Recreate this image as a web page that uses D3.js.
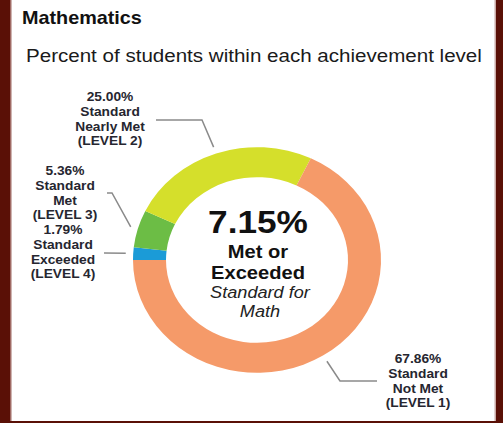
<!DOCTYPE html>
<html>
<head>
<meta charset="utf-8">
<script src="https://cdn.jsdelivr.net/npm/d3@7"></script>
<style>
  body { margin: 0; background: #fff; }
  svg { display: block; font-family: "Liberation Sans", Arial, sans-serif; }
</style>
</head>
<body>
<div id="chart"></div>
<script>
// ----- Data -----
const levels = ["Standard Exceeded", "Standard Met", "Standard Nearly Met", "Standard Not Met"];
const levelTags = ["(LEVEL 4)", "(LEVEL 3)", "(LEVEL 2)", "(LEVEL 1)"];
const percents = [1.79, 5.36, 25.00, 67.86];
const colors = ["#1b9bd7", "#6cbd45", "#d5df2b", "#f59a69"];
const metOrExceeded = "7.15%";

// label text lines, split the way the picture wraps them
const labelLines = [
  ["Standard", "Exceeded"],
  ["Standard", "Met"],
  ["Standard", "Nearly Met"],
  ["Standard", "Not Met"]
];

// ----- Config -----
const width = 503;
const height = 423;
const cx = 257, cy = 260;
const outerRadius = 124;
const innerRadius = 91;
const squash = 0.91;   // the ring is a little wider than tall
const stretch = 1.1;   // ...and so is the lettering

// where each label sits and how its leader bends
const labelLayout = [
  { x: 63,  y: 234, elbow: null,       end: [104, 253] },
  { x: 65,  y: 175, elbow: [112, 193], end: [107, 193] },
  { x: 110, y: 101, elbow: [202, 120], end: [156, 120] },
  { x: 418, y: 363, elbow: [340, 381], end: [377, 381] }
];

const data = levels.map((name, i) => ({
  name, tag: levelTags[i], value: percents[i], color: colors[i],
  lines: labelLines[i], layout: labelLayout[i]
}));

// ----- SVG setup -----
const svg = d3.select("#chart")
  .append("svg")
  .attr("width", width)
  .attr("height", height);

svg.append("rect").attr("width", width).attr("height", height).attr("fill", "#fff");

// frame
const frame = "#5a1006";
svg.append("rect").attr("x", 0).attr("y", 0).attr("width", 10).attr("height", height).attr("fill", frame);
svg.append("rect").attr("x", 10).attr("y", 0).attr("width", 1.5).attr("height", height).attr("fill", "#a06a64");
svg.append("rect").attr("x", 496).attr("y", 0).attr("width", 7).attr("height", height).attr("fill", frame);
svg.append("rect").attr("x", 494.5).attr("y", 0).attr("width", 1.5).attr("height", height).attr("fill", "#c9a9a5");
svg.append("rect").attr("x", 0).attr("y", 421).attr("width", width).attr("height", 2).attr("fill", frame);

// text helper: place at x,y and widen a little like the picture
function addText(parent, x, y, str) {
  return parent.append("text")
    .attr("transform", `translate(${x},${y}) scale(${stretch},1)`)
    .text(str);
}

// titles
addText(svg, 22, 24, "Mathematics")
  .attr("font-size", 18).attr("font-weight", "bold").attr("fill", "#111");

addText(svg, 26, 62, "Percent of students within each achievement level")
  .attr("font-size", 18.7).attr("fill", "#1a1a1a");

// ----- Donut -----
const pie = d3.pie()
  .sort(null)
  .value(d => d.value)
  .startAngle(-Math.PI / 2)
  .endAngle(3 * Math.PI / 2);

const arc = d3.arc()
  .innerRadius(innerRadius)
  .outerRadius(outerRadius);

const arcs = pie(data);

const ring = svg.append("g")
  .attr("transform", `translate(${cx},${cy}) scale(1,${squash})`);

ring.selectAll("path")
  .data(arcs)
  .join("path")
  .attr("d", arc)
  .attr("fill", d => d.data.color);

// ----- Leader lines -----
const leadR = outerRadius * 1.06;
function leaderStart(d) {
  const a = (d.startAngle + d.endAngle) / 2;
  return [cx + leadR * Math.sin(a), cy - leadR * squash * Math.cos(a)];
}

svg.append("g")
  .selectAll("path")
  .data(arcs)
  .join("path")
  .attr("fill", "none")
  .attr("stroke", "#8a8a8a")
  .attr("stroke-width", 1.5)
  .attr("d", d => {
    const pts = [leaderStart(d)];
    if (d.data.layout.elbow) pts.push(d.data.layout.elbow);
    pts.push(d.data.layout.end);
    return d3.line()(pts);
  });

// ----- Slice labels -----
const labels = svg.append("g")
  .selectAll("text")
  .data(arcs)
  .join("text")
  .attr("text-anchor", "middle")
  .attr("font-size", 12.5)
  .attr("font-weight", "bold")
  .attr("fill", "#262630")
  .attr("transform", d => `translate(${d.data.layout.x},${d.data.layout.y}) scale(${stretch},1)`);

labels.each(function(d) {
  const t = d3.select(this);
  const lines = [d3.format(".2f")(d.data.value) + "%", ...d.data.lines, d.data.tag];
  lines.forEach((s, i) => {
    t.append("tspan")
      .attr("x", 0)
      .attr("dy", i === 0 ? 0 : 14.8)
      .text(s);
  });
});

// ----- Centre text -----
const centre = svg.append("g").attr("text-anchor", "middle").attr("fill", "#111");
addText(centre, cx + 1, 233, metOrExceeded).attr("font-size", 32).attr("font-weight", "bold");
addText(centre, cx + 1, 258, "Met or").attr("font-size", 18.3).attr("font-weight", "bold");
addText(centre, cx + 1, 279, "Exceeded").attr("font-size", 18.3).attr("font-weight", "bold");
addText(centre, cx + 3, 298, "Standard for").attr("font-size", 16.5).attr("font-style", "italic").attr("fill", "#222");
addText(centre, cx + 3, 317, "Math").attr("font-size", 16.5).attr("font-style", "italic").attr("fill", "#222");
</script>
</body>
</html>
